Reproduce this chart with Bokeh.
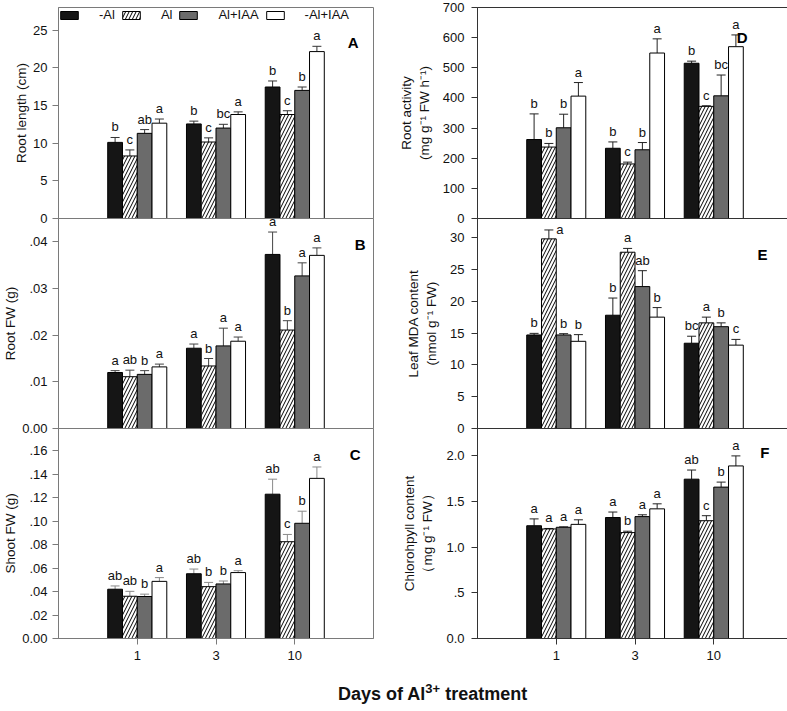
from bokeh.plotting import figure
from bokeh.models import (ColumnDataSource, FactorRange, Range1d, FixedTicker,
                          Legend, LegendItem, Label, Whisker, TeeHead, Div)
from bokeh.layouts import row, column
from bokeh.transform import dodge
from bokeh.embed import file_html
from bokeh.resources import INLINE
from bokeh.core.properties import value

# ---------------- data ----------------
days = ["1", "3", "10"]
treatments = ["-Al", "Al", "Al+IAA", "-Al+IAA"]

# A: root length (cm); rows follow `treatments`, columns follow `days`
A_mean = [[10.1, 12.55, 17.45], [8.3, 10.15, 13.8], [11.3, 12.0, 17.0], [12.65, 13.8, 22.15]]
A_err = [[0.65, 0.37, 0.8], [0.8, 0.55, 0.5], [0.5, 0.5, 0.45], [0.55, 0.35, 0.7]]
A_letters = [["b", "b", "b"], ["c", "c", "c"], ["ab", "bc", "b"], ["a", "a", "a"]]
A_ticks = [0, 5, 10, 15, 20, 25]
A_tick_labels = ["0", "5", "10", "15", "20", "25"]

# B: root FW (g)
B_mean = [[0.0120, 0.0172, 0.0373], [0.0111, 0.0134, 0.0211], [0.0116, 0.0177, 0.0327], [0.0132, 0.0187, 0.0371]]
B_err = [[0.0004, 0.0009, 0.0048], [0.0014, 0.0016, 0.0020], [0.0008, 0.0038, 0.0028], [0.0006, 0.0009, 0.0016]]
B_letters = [["a", "a", "a"], ["ab", "b", "b"], ["b", "a", "a"], ["a", "a", "a"]]
B_ticks = [0, 0.01, 0.02, 0.03, 0.04]
B_tick_labels = ["0.00", ".01", ".02", ".03", ".04"]

# C: shoot FW (g)
C_mean = [[0.0420, 0.0552, 0.1230], [0.0360, 0.0442, 0.0825], [0.0358, 0.0465, 0.0982], [0.0487, 0.0562, 0.1365]]
C_err = [[0.0028, 0.0040, 0.0128], [0.0042, 0.0036, 0.0062], [0.0020, 0.0025, 0.0103], [0.0032, 0.0016, 0.0097]]
C_letters = [["ab", "ab", "ab"], ["ab", "b", "c"], ["b", "b", "b"], ["a", "a", "a"]]
C_ticks = [0, 0.02, 0.04, 0.06, 0.08, 0.10, 0.12, 0.14, 0.16]
C_tick_labels = ["0.00", ".02", ".04", ".06", ".08", ".10", ".12", ".14", ".16"]

# D: root activity
D_mean = [[262, 233, 515], [237, 181, 372], [301, 228, 407], [406, 549, 570]]
D_err = [[85, 21, 7], [12, 6, 2], [45, 24, 69], [45, 47, 39]]
D_letters = [["b", "b", "b"], ["b", "c", "c"], ["b", "b", "bc"], ["a", "a", "a"]]
D_ticks = [0, 100, 200, 300, 400, 500, 600, 700]
D_tick_labels = ["0", "100", "200", "300", "400", "500", "600", "700"]

# E: leaf MDA content
E_mean = [[14.7, 17.8, 13.4], [29.8, 27.7, 16.6], [14.7, 22.3, 16.0], [13.7, 17.5, 13.1]]
E_err = [[0.25, 2.7, 1.1], [1.4, 0.6, 0.9], [0.2, 2.5, 0.6], [1.05, 1.5, 0.9]]
E_letters = [["b", "b", "bc"], ["a", "a", "a"], ["b", "ab", "b"], ["b", "b", "c"]]
E_ticks = [0, 5, 10, 15, 20, 25, 30]
E_tick_labels = ["0", "5", "10", "15", "20", "25", "30"]

# F: chlorophyll content
F_mean = [[1.235, 1.325, 1.745], [1.20, 1.16, 1.29], [1.218, 1.335, 1.658], [1.25, 1.42, 1.89]]
F_err = [[0.075, 0.06, 0.10], [0.005, 0.015, 0.055], [0.005, 0.02, 0.055], [0.05, 0.055, 0.11]]
F_letters = [["a", "a", "ab"], ["a", "b", "c"], ["a", "a", "b"], ["a", "a", "a"]]
F_ticks = [0, 0.5, 1.0, 1.5, 2.0]
F_tick_labels = ["0.0", ".5", "1.0", "1.5", "2.0"]

# ---------------- style / layout ----------------
FONT = "Liberation Sans"
BAR_W = 0.1875
OFFSETS = [-1.5 * BAR_W, -0.5 * BAR_W, 0.5 * BAR_W, 1.5 * BAR_W]
FILLS = ["#151515", "#ffffff", "#6b6b6b", "#ffffff"]
HATCH = [None, "/", None, None]
NUDGE = {("E", 1, 0): (11, 7)}     # letter placed beside its error bar
EDGE = 8                           # border kept above/below inner frames (overlapped)


def make_panel(tag, means, errs, letters, y_end, ticks, tick_labels, ylabel,
               right_col, rowpos, whisker_color, frame_color, letter_dx, letter_dy):
    if right_col:
        mb_left, mb_right, fw = 77, 2, 315
        lab_standoff, title_standoff = 7, 8
    else:
        mb_left, mb_right, fw = 56, 22, 315
        lab_standoff, title_standoff = 5, 1
    top_row, bottom_row = rowpos == 0, rowpos == 2
    fh = 211 if top_row else 210
    p = figure(x_range=FactorRange(factors=days, range_padding=1 / 3),
               y_range=Range1d(0, y_end),
               frame_width=fw, frame_height=fh,
               min_border_left=mb_left, min_border_right=mb_right,
               min_border_top=7 if top_row else EDGE,
               min_border_bottom=30 if bottom_row else EDGE,
               output_backend="svg", toolbar_location=None,
               background_fill_color="white", border_fill_color="white",
               border_fill_alpha=1 if top_row else 0)
    if not top_row:
        p.margin = (-2 * EDGE, 0, 0, 0)
    p.xgrid.visible = False
    p.ygrid.visible = False
    p.outline_line_color = frame_color
    p.outline_line_width = 1

    ya = p.yaxis[0]
    ya.ticker = FixedTicker(ticks=ticks)
    ya.major_label_overrides = {t: l for t, l in zip(ticks, tick_labels)}
    ya.minor_tick_line_color = None
    ya.major_tick_out = 6
    ya.major_tick_in = 0
    ya.axis_line_color = frame_color
    ya.major_tick_line_color = frame_color
    ya.major_label_text_font = FONT
    ya.major_label_text_font_size = "13px"
    ya.major_label_text_color = "#111111"
    ya.major_label_standoff = lab_standoff
    ya.axis_label = ylabel
    ya.axis_label_text_font = FONT
    ya.axis_label_text_font_size = "13.5px"
    ya.axis_label_text_font_style = "normal"
    ya.axis_label_text_color = "#111111"
    ya.axis_label_standoff = title_standoff

    xa = p.xaxis[0]
    xa.major_tick_out = 6
    xa.major_tick_in = 0
    xa.axis_line_color = frame_color
    xa.major_tick_line_color = frame_color
    if bottom_row:
        xa.major_label_text_font = FONT
        xa.major_label_text_font_size = "13px"
        xa.major_label_text_color = "#111111"
        xa.major_label_standoff = 6
    else:
        xa.major_label_text_font_size = "0px"
        xa.major_label_text_color = None
        xa.major_label_standoff = 0

    renderers = []
    for i, t in enumerate(treatments):
        upper = [m + e for m, e in zip(means[i], errs[i])]
        src = ColumnDataSource(dict(day=days, mean=means[i], upper=upper, letter=letters[i],
                                    dx=[NUDGE.get((tag, i, j), (0, -3))[0] for j in range(3)],
                                    dy=[NUDGE.get((tag, i, j), (0, -3))[1] for j in range(3)]))
        xs = dodge("day", OFFSETS[i], range=p.x_range)
        kw = {}
        if HATCH[i]:
            kw = dict(hatch_pattern=HATCH[i], hatch_color="black", hatch_scale=7, hatch_weight=1)
        r = p.vbar(x=xs, top="mean", width=BAR_W, source=src, fill_color=FILLS[i],
                   line_color="black", line_width=1, **kw)
        renderers.append(r)
        p.add_layout(Whisker(base=xs, lower="mean", upper="upper", source=src,
                             dimension="height", line_color=whisker_color, line_width=1,
                             upper_head=TeeHead(size=9, line_color=whisker_color, line_width=1),
                             lower_head=None))
        p.text(x=xs, y="upper", text="letter", source=src, x_offset="dx", y_offset="dy",
               text_align="center", text_baseline="bottom",
               text_font=value(FONT), text_font_size="13px", text_color="#111111")

    p.add_layout(Label(x=3.5, y=y_end, x_offset=letter_dx, y_offset=-letter_dy, text=tag,
                       text_align="right", text_baseline="middle", text_font=FONT,
                       text_font_size="15px", text_font_style="bold", text_color="black"))
    return p, renderers


LEFT_FRAME = "#7a7a7a"
RIGHT_FRAME = "#333333"

pA, rA = make_panel("A", A_mean, A_err, A_letters, 28, A_ticks, A_tick_labels,
                    "Root length (cm)", False, 0, "#333333", LEFT_FRAME, -15, 35)
pB, _ = make_panel("B", B_mean, B_err, B_letters, 0.045, B_ticks, B_tick_labels,
                   "Root FW (g)", False, 1, "#444444", LEFT_FRAME, -8, 26)
pC, _ = make_panel("C", C_mean, C_err, C_letters, 0.179, C_ticks, C_tick_labels,
                   "Shoot FW (g)", False, 2, "#8a8a8a", LEFT_FRAME, -13, 26)
pD, _ = make_panel("D", D_mean, D_err, D_letters, 700, D_ticks, D_tick_labels,
                   "Root activity\n(mg g\u207b\u00b9 FW h\u207b\u00b9)", True, 0,
                   "#222222", RIGHT_FRAME, -45, 30)
pE, _ = make_panel("E", E_mean, E_err, E_letters, 33, E_ticks, E_tick_labels,
                   "Leaf MDA content\n(nmol g\u207b\u00b9 FW)", True, 1,
                   "#222222", RIGHT_FRAME, -25, 36)
pF, _ = make_panel("F", F_mean, F_err, F_letters, 2.3, F_ticks, F_tick_labels,
                   "Chlorohpyll content\n\uff08mg g\u207b\u00b9 FW\uff09", True, 2,
                   "#222222", RIGHT_FRAME, -23, 24)

legend = Legend(items=[LegendItem(label=t, renderers=[r]) for t, r in zip(treatments, rA)],
                location="top_left", orientation="horizontal",
                background_fill_alpha=0, border_line_color=None,
                margin=0, padding=4, spacing=5,
                glyph_width=22, glyph_height=10, label_height=12, label_width=10,
                label_standoff=19, label_text_font=FONT, label_text_font_size="13px",
                label_text_color="#111111")
pA.add_layout(legend)

title = Div(text=("<div style=\"font-family:'Liberation Sans',Arial,sans-serif;font-weight:bold;"
                  "font-size:18px;white-space:nowrap;padding-left:333px;padding-top:7px;"
                  "color:#111;\">Days of Al<sup style=\"font-size:13px\">3+</sup> treatment</div>"),
            width=787, height=43)
layout = column(row(column(pA, pB, pC), column(pD, pE, pF)), title)

open("out.html", "w").write(file_html(layout, INLINE))
